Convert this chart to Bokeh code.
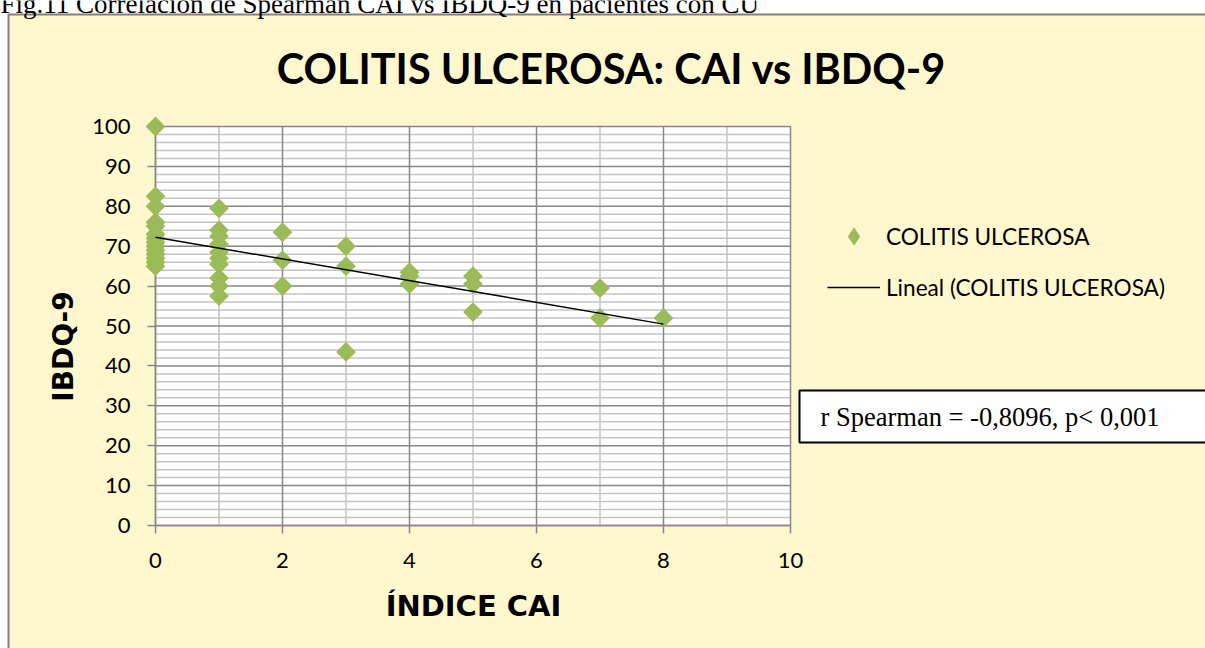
import numpy as np
from bokeh.plotting import figure
from bokeh.models import Label, Legend, LegendItem, SingleIntervalTicker, Range1d
from bokeh.embed import file_html
from bokeh.resources import INLINE

# ---- data ----
cai = [0, 0, 0, 0, 0, 0, 0, 0, 0, 0, 0, 0, 0, 0,
       1, 1, 1, 1, 1, 1, 1, 1, 1, 1,
       2, 2, 2,
       3, 3, 3,
       4, 4, 4,
       5, 5, 5,
       7, 7,
       8]
ibdq9 = [100, 82.5, 80, 76, 75, 73, 72, 71, 70, 69, 68, 67, 66, 65,
         79.5, 74, 72.5, 70.5, 68.5, 67, 65.5, 62, 60, 57.5,
         73.5, 66.5, 60,
         70, 65, 43.5,
         63.5, 62.5, 60.5,
         62.5, 60.5, 53.5,
         59.5, 52,
         52]
x_major_ticks = [0, 2, 4, 6, 8, 10]
x_minor_ticks = [1, 3, 5, 7, 9]
y_major_ticks = [0, 10, 20, 30, 40, 50, 60, 70, 80, 90, 100]
y_minor_ticks = [v for v in range(2, 100, 2) if v % 10]
series_label = "COLITIS ULCEROSA"
trend_label = "Lineal (COLITIS ULCEROSA)"
chart_title = "COLITIS ULCEROSA: CAI vs IBDQ-9"
x_title = "ÍNDICE CAI"
y_title = "IBDQ-9"
caption = "Fig.11 Correlación de Spearman CAI vs IBDQ-9 en pacientes con CU"
stat_text = "r Spearman = -0,8096, p< 0,001"

X_MIN, X_MAX = 0, 10
Y_MIN, Y_MAX = 0, 100

# ---- layout: the plot frame fills the whole canvas ----
W, H = 1205, 648
X_PX0, Y_PX0 = 155, 525          # pixel of data origin
SX, SY = 63.5, 3.99              # pixels per data unit


def dx(px):
    return (px - X_PX0) / SX


def dy(py):
    return (Y_PX0 - py) / SY


YELLOW = "#FFF7CE"
BORDER = "#808080"
MAJOR = "#878787"
MINOR = "#C3C3C3"
GREEN = "#9BBB59"

p = figure(width=W, height=H, x_range=Range1d(dx(0), dx(W)), y_range=Range1d(dy(H), dy(0)),
           output_backend="svg", toolbar_location=None, min_border=0,
           border_fill_color="white", background_fill_color="white",
           outline_line_color=None)
p.xgrid.visible = False
p.ygrid.visible = False

# chart box and plot area
p.quad(left=dx(8), right=dx(W + 20), bottom=dy(H + 20), top=dy(14),
       fill_color=YELLOW, line_color=BORDER, line_width=2, level="image")
p.quad(left=X_MIN, right=X_MAX, bottom=Y_MIN, top=Y_MAX,
       fill_color="white", line_color=None, level="image")

# grid lines
p.segment(x0=x_minor_ticks, y0=Y_MIN, x1=x_minor_ticks, y1=Y_MAX, line_color=MINOR, line_width=1.5)
p.segment(x0=X_MIN, y0=y_minor_ticks, x1=X_MAX, y1=y_minor_ticks, line_color=MINOR, line_width=1.5)
p.segment(x0=x_major_ticks, y0=Y_MIN, x1=x_major_ticks, y1=Y_MAX, line_color=MAJOR, line_width=1.5)
p.segment(x0=X_MIN, y0=y_major_ticks, x1=X_MAX, y1=y_major_ticks, line_color=MAJOR, line_width=1.5)

# axes placed at the data origin
p.xaxis.fixed_location = Y_MIN
p.yaxis.fixed_location = X_MIN
p.xaxis.bounds = (X_MIN, X_MAX)
p.yaxis.bounds = (Y_MIN, Y_MAX)
p.xaxis.ticker = SingleIntervalTicker(interval=2, num_minor_ticks=2)
p.yaxis.ticker = SingleIntervalTicker(interval=10, num_minor_ticks=5)
for ax in p.axis:
    ax.level = "underlay"
    ax.axis_line_color = MAJOR
    ax.axis_line_width = 1.5
    ax.major_tick_line_color = MAJOR
    ax.major_tick_line_width = 1.5
    ax.major_tick_out = 8
    ax.major_tick_in = 0
    ax.minor_tick_line_color = None
    ax.major_label_text_font = "Lato"
    ax.major_label_text_font_size = "22px"
    ax.major_label_text_color = "black"
p.xaxis.major_label_standoff = 19
p.yaxis.major_label_standoff = 17

r_sc = p.scatter(cai, ibdq9, marker="square", angle=np.pi / 4, size=14,
                 fill_color=GREEN, line_color=None)
# legend key: same points drawn at zero size; the legend draws its own diamond
r_key = p.scatter(cai, ibdq9, marker="diamond", size=0,
                  fill_color=GREEN, line_color=None)

slope, intercept = np.polyfit(np.array(cai, float), np.array(ibdq9, float), 1)
tx = [min(cai), max(cai)]
ty = [intercept + slope * v for v in tx]
r_ln = p.line(tx, ty, line_color="black", line_width=1.5)

legend = Legend(items=[LegendItem(label=series_label, renderers=[r_key]),
                       LegendItem(label=trend_label, renderers=[r_ln])],
                location=(827, H - 310), orientation="vertical",
                glyph_width=53, glyph_height=46, label_height=30,
                spacing=5, padding=0, margin=0, label_standoff=6,
                label_text_font="Lato", label_text_font_size="22.6px",
                label_text_color="black",
                background_fill_alpha=0, border_line_color=None)
p.add_layout(legend)

p.add_layout(Label(x=dx(0), y=dy(3), text=caption,
                   text_font="Liberation Serif", text_font_size="27px",
                   text_baseline="alphabetic", text_color="black"))
p.add_layout(Label(x=dx(611), y=dy(67), text=chart_title,
                   text_font="Lato", text_font_style="bold", text_font_size="41.4px",
                   text_align="center", text_baseline="middle", text_color="black"))
p.add_layout(Label(x=dx(473), y=dy(605), text=x_title,
                   text_font="DejaVu Sans", text_font_style="bold", text_font_size="29px",
                   text_align="center", text_baseline="middle", text_color="black"))
p.add_layout(Label(x=dx(63), y=dy(346), text=y_title, angle=np.pi / 2,
                   text_font="DejaVu Sans", text_font_style="bold", text_font_size="28px",
                   text_align="center", text_baseline="middle", text_color="black"))
p.add_layout(Label(x=dx(799), y=dy(416), text=stat_text,
                   text_font="Liberation Serif", text_font_size="26.5px",
                   text_align="left", text_baseline="middle", text_color="black",
                   background_fill_color="white", border_line_color="black",
                   border_line_width=2,
                   padding=dict(left=21, right=80, top=11, bottom=11)))

open("out.html", "w").write(file_html(p, INLINE))
